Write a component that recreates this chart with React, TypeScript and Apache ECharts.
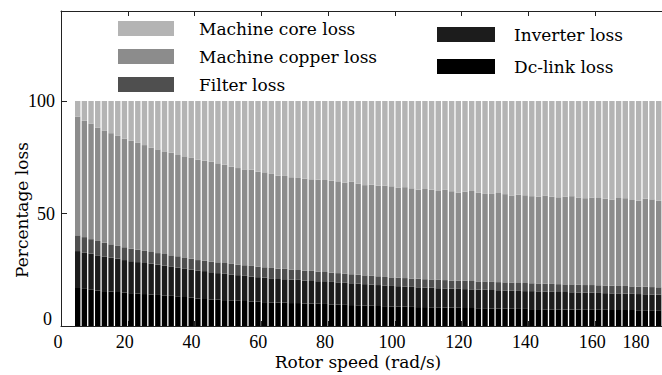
import React, { useEffect, useRef } from "react";
import * as echarts from "echarts";

const speed = [
  5, 7, 9, 11, 13, 15, 17, 19, 21, 23, 25, 27, 29, 31, 33, 35, 37, 39, 41, 43,
  45, 47, 49, 51, 53, 55, 57, 59, 61, 63, 65, 67, 69, 71, 73, 75, 77, 79,
  81, 83, 85, 87, 89, 91, 93, 95, 97, 99, 101, 103, 105, 107, 109, 111, 113, 115, 117, 119, 121,
  123, 125, 127, 129, 131, 133, 135, 137, 139, 141, 143, 145, 147, 149, 151, 153, 155, 157, 159, 161,
  163, 165, 167, 169, 171, 173, 175, 177, 179,
];

const dcLinkLoss = [
  16.9, 16.5, 16.1, 15.8, 15.5, 15.3, 15.1, 14.9, 14.6, 14.4, 14.2, 14.0, 13.8, 13.6, 13.4, 13.2, 12.9,
  12.6, 12.2, 12.0, 11.8, 11.7, 11.5, 11.4, 11.2, 11.1, 10.9, 10.8, 10.6, 10.5, 10.4, 10.4, 10.2, 10.2, 10.0, 10.0, 9.9, 9.8,
  9.6, 9.5, 9.4, 9.3, 9.2, 9.1, 9.0, 8.9, 8.8, 8.7, 8.6, 8.6, 8.5, 8.4, 8.4, 8.3, 8.3, 8.2, 8.2, 8.1, 8.0,
  8.0, 7.9, 7.9, 7.8, 7.8, 7.7, 7.7, 7.6, 7.6, 7.5, 7.5, 7.4, 7.4, 7.4, 7.3, 7.3, 7.3, 7.2, 7.2, 7.2,
  7.2, 7.1, 7.1, 7.1, 7.1, 7.0, 7.0, 7.0, 7.0,
];

const inverterLoss = [
  16.4, 16.2, 16.1, 15.6, 15.4, 15.1, 14.8, 14.4, 14.2, 14.0, 13.8, 13.7, 13.5, 13.2, 13.1, 12.8, 12.7,
  12.5, 12.5, 12.4, 12.1, 11.8, 11.7, 11.5, 11.4, 11.2, 11.1, 10.9, 10.9, 10.7, 10.5, 10.4, 10.4, 10.3, 10.2, 10.0, 10.0, 10.1,
  10.0, 9.9, 9.8, 9.7, 9.6, 9.5, 9.4, 9.3, 9.2, 9.1, 9.1, 8.9, 8.9, 8.8, 8.7, 8.7, 8.5, 8.5, 8.4, 8.4, 8.4,
  8.3, 8.3, 8.2, 8.2, 8.1, 8.1, 8.0, 8.0, 7.9, 8.0, 7.9, 7.9, 7.8, 7.7, 7.8, 7.7, 7.6, 7.6, 7.6, 7.5,
  7.4, 7.4, 7.4, 7.3, 7.2, 7.2, 7.1, 7.0, 6.9,
];

const filterLoss = [
  7.0, 6.8, 6.4, 6.4, 6.1, 5.9, 5.7, 5.7, 5.6, 5.5, 5.4, 5.2, 5.1, 5.2, 4.9, 5.0, 4.9,
  4.8, 4.6, 4.6, 4.7, 4.8, 4.8, 4.7, 4.7, 4.7, 4.7, 4.7, 4.6, 4.6, 4.6, 4.6, 4.5, 4.4, 4.4, 4.5, 4.3, 4.1,
  4.1, 4.1, 4.0, 4.0, 4.0, 3.9, 3.9, 3.9, 3.8, 3.8, 3.8, 3.8, 3.7, 3.8, 3.7, 3.7, 3.7, 3.7, 3.6, 3.7, 3.7,
  3.7, 3.6, 3.7, 3.6, 3.6, 3.6, 3.6, 3.5, 3.6, 3.5, 3.5, 3.5, 3.5, 3.5, 3.4, 3.5, 3.4, 3.4, 3.4, 3.4,
  3.4, 3.4, 3.3, 3.4, 3.3, 3.3, 3.4, 3.3, 3.3,
];

const copperLoss = [
  52.8, 51.7, 51.4, 50.4, 49.9, 49.4, 48.9, 48.3, 47.9, 47.5, 47.0, 46.4, 46.1, 45.6, 45.6, 45.0, 44.9, 45.0, 44.6, 44.5,
  44.4, 44.0, 43.7, 43.2, 42.9, 42.6, 42.8, 42.2, 42.2, 41.8, 41.3, 41.3, 41.0, 40.9, 40.9, 40.7, 40.8, 40.9,
  40.9, 40.8, 40.5, 41.2, 40.5, 40.1, 40.5, 40.3, 40.6, 40.5, 39.9, 40.4, 40.1, 39.6, 40.1, 39.9, 39.5, 40.1, 39.7, 39.1, 39.6,
  40.0, 39.5, 38.9, 39.1, 39.6, 39.2, 38.7, 39.3, 39.0, 38.7, 38.6, 39.2, 38.8, 38.6, 39.0, 39.2, 38.8, 38.6, 38.9, 38.8,
  38.6, 38.3, 39.1, 39.0, 38.4, 38.2, 39.1, 39.0, 38.5,
];

const coreLoss = [
  6.9, 8.8, 10.0, 11.8, 13.1, 14.3, 15.5, 16.7, 17.7, 18.6, 19.6, 20.7, 21.5, 22.4, 23.0, 24.0, 24.6, 25.1, 26.1, 26.5,
  27.0, 27.7, 28.3, 29.2, 29.8, 30.4, 30.5, 31.4, 31.7, 32.4, 33.2, 33.3, 33.9, 34.2, 34.5, 34.8, 35.0, 35.1,
  35.4, 35.7, 36.3, 35.8, 36.7, 37.4, 37.2, 37.6, 37.6, 37.9, 38.6, 38.3, 38.8, 39.4, 39.1, 39.4, 40.0, 39.5, 40.1, 40.7, 40.3,
  40.0, 40.7, 41.3, 41.3, 40.9, 41.4, 42.0, 41.6, 41.9, 42.3, 42.5, 42.0, 42.5, 42.8, 42.5, 42.3, 42.9, 43.2, 42.9, 43.1,
  43.4, 43.8, 43.1, 43.2, 44.0, 44.3, 43.4, 43.7, 44.3,
];

const seriesNames = [
  "Dc-link loss",
  "Inverter loss",
  "Filter loss",
  "Machine copper loss",
  "Machine core loss",
];
const seriesValues = [dcLinkLoss, inverterLoss, filterLoss, copperLoss, coreLoss];
const seriesColors = ["#000000", "#1c1c1c", "#4f4f4f", "#8c8c8c", "#b4b4b4"];

const xTicks = [0, 20, 40, 60, 80, 100, 120, 140, 160, 180];
const yTicks = [0, 50, 100];

const TICK_FONT = '"Liberation Serif", serif';
const TEXT_FONT = '"DejaVu Serif", serif';

// layout constants
const PLOT_LEFT = 61;
const PLOT_TOP = 11;
const PLOT_BOTTOM = 49;
const X_MAX = 180;
const Y_MAX = 140;
const CHART_W = 662;

export default function App() {
  const ref = useRef<HTMLDivElement>(null);

  useEffect(() => {
    if (!ref.current) return;
    const chart = echarts.init(ref.current, null, { renderer: "svg" });

    const axisLine = { show: true, lineStyle: { color: "#222", width: 1 } };
    // bars are centred on odd speeds with bands 2 rad/s wide, starting at speed[0]-1
    const pxPerUnit = (CHART_W - PLOT_LEFT) / X_MAX;
    const barGridLeft = PLOT_LEFT + (speed[0] - 1) * pxPerUnit;

    const option: any = {
      animation: false,
      backgroundColor: "#ffffff",
      grid: [
        { left: PLOT_LEFT, right: 0, top: PLOT_TOP, bottom: PLOT_BOTTOM, containLabel: false },
        { left: barGridLeft, right: 0, top: PLOT_TOP, bottom: PLOT_BOTTOM, containLabel: false },
      ],
      legend: [
        {
          orient: "vertical",
          left: 118,
          top: 20,
          padding: 0,
          itemWidth: 56,
          itemHeight: 15,
          itemGap: 11,
          icon: "rect",
          data: ["Machine core loss", "Machine copper loss", "Filter loss"],
          textStyle: {
            fontFamily: TEXT_FONT,
            fontSize: 17,
            color: "#000",
            lineHeight: 15,
            padding: [0, 0, 0, 20],
          },
        },
        {
          orient: "vertical",
          left: 437,
          top: 26,
          padding: 0,
          itemWidth: 58,
          itemHeight: 15,
          itemGap: 15,
          icon: "rect",
          data: ["Inverter loss", "Dc-link loss"],
          textStyle: {
            fontFamily: TEXT_FONT,
            fontSize: 17,
            color: "#000",
            lineHeight: 15,
            padding: [0, 0, 0, 14],
          },
        },
      ],
      xAxis: [
        {
          type: "value",
          gridIndex: 0,
          position: "bottom",
          min: 0,
          max: X_MAX,
          interval: 20,
          axisLine,
          axisTick: { show: true, inside: true, length: 5, lineStyle: { color: "#222" } },
          splitLine: { show: false },
          axisLabel: {
            show: true,
            showMaxLabel: true,
            margin: 7,
            color: "#000",
            fontFamily: TICK_FONT,
            fontSize: 18,
            formatter: (v: number) =>
              xTicks.includes(v) ? (v === 180 ? "{r|180}" : "{n|" + v + "}") : "",
            rich: {
              n: { fontFamily: TICK_FONT, fontSize: 18, color: "#000", padding: [0, 6, 0, 0] },
              r: { fontFamily: TICK_FONT, fontSize: 18, color: "#000", padding: [0, 52, 0, 0] },
            },
          },
        },
        {
          type: "value",
          gridIndex: 0,
          position: "top",
          min: 0,
          max: X_MAX,
          interval: 20,
          axisLine,
          axisTick: { show: true, inside: true, length: 5, lineStyle: { color: "#222" } },
          axisLabel: { show: false },
          splitLine: { show: false },
        },
        {
          type: "category",
          gridIndex: 1,
          data: speed.map(String),
          boundaryGap: true,
          show: false,
        },
      ],
      yAxis: [
        {
          type: "value",
          gridIndex: 0,
          min: 0,
          max: Y_MAX,
          interval: 50,
          axisLine,
          axisTick: { show: true, inside: true, length: 6, lineStyle: { color: "#222" } },
          splitLine: { show: false },
          axisLabel: {
            showMaxLabel: false,
            margin: 6,
            color: "#000",
            fontFamily: TICK_FONT,
            fontSize: 18,
            formatter: (v: number) =>
              yTicks.includes(v) ? (v === 0 ? "{b|0}" : "{n|" + v + "}") : "",
            rich: {
              n: { fontFamily: TICK_FONT, fontSize: 18, color: "#000" },
              b: { fontFamily: TICK_FONT, fontSize: 18, color: "#000", padding: [0, 3, 14, 0] },
            },
          },
        },
        {
          type: "value",
          gridIndex: 1,
          min: 0,
          max: Y_MAX,
          show: false,
          splitLine: { show: false },
        },
      ],
      graphic: [
        {
          type: "text",
          x: 358,
          y: 362,
          style: {
            text: "Rotor speed (rad/s)",
            font: '17px "DejaVu Serif", serif',
            fill: "#000",
            textAlign: "center",
            textVerticalAlign: "middle",
            align: "center",
            verticalAlign: "middle",
          },
        },
        {
          type: "text",
          x: 22,
          y: 210,
          rotation: Math.PI / 2,
          style: {
            text: "Percentage loss",
            font: '17px "DejaVu Serif", serif',
            fill: "#000",
            textAlign: "center",
            textVerticalAlign: "middle",
            align: "center",
            verticalAlign: "middle",
          },
        },
      ],
      series: seriesNames.map((name, k) => ({
        name,
        type: "bar",
        stack: "loss",
        xAxisIndex: 2,
        yAxisIndex: 1,
        barWidth: 5.4,
        itemStyle: { color: seriesColors[k], borderWidth: 0 },
        emphasis: { disabled: true },
        data: seriesValues[k],
      })),
    };

    chart.setOption(option);
    return () => chart.dispose();
  }, []);

  return (
    <div
      ref={ref}
      style={{ position: "absolute", left: 0, top: 0, width: CHART_W, height: 375, background: "#fff" }}
    />
  );
}
